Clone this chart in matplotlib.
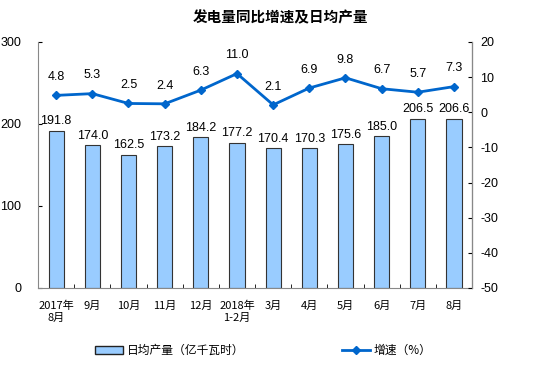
import matplotlib.pyplot as plt
import numpy as np
from matplotlib.patches import Patch
from matplotlib.lines import Line2D

plt.rcParams['font.family'] = ['Noto Sans CJK SC', 'DejaVu Sans']
plt.rcParams['axes.unicode_minus'] = False

months = ["2017年\n8月", "9月", "10月", "11月", "12月", "2018年\n1-2月",
          "3月", "4月", "5月", "6月", "7月", "8月"]
daily_output = [191.8, 174.0, 162.5, 173.2, 184.2, 177.2, 170.4, 170.3, 175.6, 185.0, 206.5, 206.6]
growth = [4.8, 5.3, 2.5, 2.4, 6.3, 11.0, 2.1, 6.9, 9.8, 6.7, 5.7, 7.3]

bar_color = "#99CCFF"
line_color = "#0066CC"

fig = plt.figure(figsize=(5.6, 3.85), dpi=100)
ax = fig.add_axes([0.068, 0.252, 0.775, 0.639])
x = np.arange(len(months))

ax.bar(x, daily_output, width=0.42, color=bar_color, edgecolor="#333333", linewidth=0.8, zorder=2)
for xi, v in zip(x, daily_output):
    ax.text(xi, v + 4, f"{v:.1f}", ha="center", va="bottom", fontsize=9, family="Liberation Sans")

ax.set_ylim(0, 300)
ax.set_yticks([0, 100, 200, 300])
ax.set_xlim(-0.5, len(months) - 0.5)
ax.set_xticks(x)
ax.set_xticklabels(months, fontsize=8)
ax.set_xticks(np.arange(-0.5, len(months)), minor=True)
ax.tick_params(axis="x", which="major", length=0, pad=9)
ax.tick_params(axis="x", which="minor", length=3, direction="in")
ax.tick_params(axis="y", labelsize=9, length=3, direction="in", pad=12)
for lab in ax.get_yticklabels():
    lab.set_family("Liberation Sans")
ax.spines["top"].set_visible(False)
for s in ["left", "bottom"]:
    ax.spines[s].set_color("#888888")

ax2 = ax.twinx()
ax2.plot(x, growth, color=line_color, marker="D", markersize=4, linewidth=2, zorder=3)
for xi, v in zip(x, growth):
    ax2.text(xi, v + 3.5, f"{v:.1f}", ha="center", va="bottom", fontsize=9, family="Liberation Sans")
ax2.set_ylim(-50, 20)
ax2.set_yticks(np.arange(-50, 21, 10))
ax2.tick_params(axis="y", labelsize=9, length=3, direction="in", pad=6)
for lab in ax2.get_yticklabels():
    lab.set_family("Liberation Sans")
ax2.spines["top"].set_visible(False)
ax2.spines["right"].set_color("#888888")
ax2.spines["left"].set_visible(False)
ax2.spines["bottom"].set_visible(False)

fig.text(0.5, 0.955, "发电量同比增速及日均产量", ha="center", va="center", fontsize=10.5, fontweight="bold")

handles = [Patch(facecolor=bar_color, edgecolor="#222222", label="日均产量（亿千瓦时）"),
           Line2D([0], [0], color=line_color, marker="D", markersize=4, linewidth=2, label="增速（%）")]
fig.legend(handles=handles, loc="center", bbox_to_anchor=(0.47, 0.09), ncol=2, frameon=False,
           fontsize=8.5, columnspacing=8.3, handlelength=2.4, handletextpad=0.3)

fig.savefig("out.png", dpi=100)
